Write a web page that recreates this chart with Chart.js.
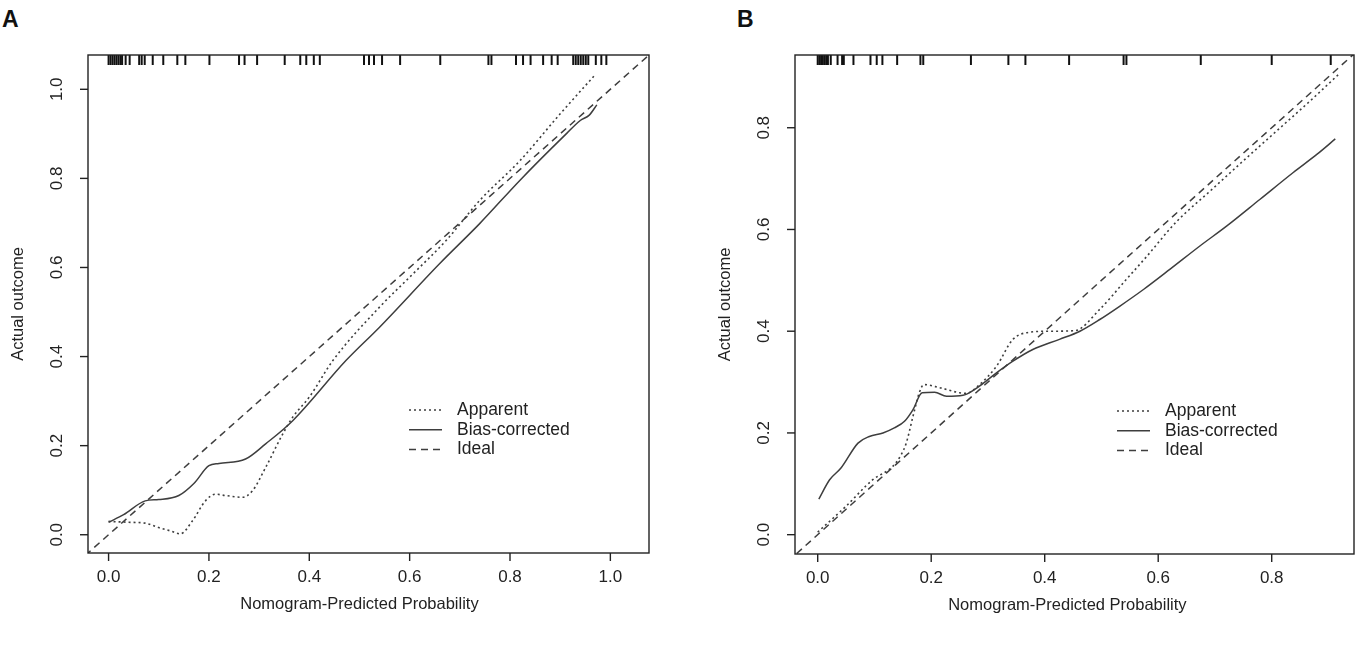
<!DOCTYPE html>
<html>
<head>
<meta charset="utf-8">
<script src="https://cdn.jsdelivr.net/npm/chart.js@4.4.0/dist/chart.umd.min.js"></script>
<style>
  html, body { margin: 0; padding: 0; background: #fff; }
  .panel { position: absolute; top: 0; width: 683px; height: 651px; }
  .tag { position: absolute; top: 6px; font: bold 23px "Liberation Sans", Arial, sans-serif; color: #111; }
</style>
</head>
<body>
<div class="tag" style="left:2px">A</div>
<div class="tag" style="left:737px">B</div>
<div class="panel" style="left:0"><canvas id="chartA"></canvas></div>
<div class="panel" style="left:683px"><canvas id="chartB"></canvas></div>
<script>
// tick labels
var xTicksA = [0, 0.2, 0.4, 0.6, 0.8, 1.0];
var yTicksA = [0, 0.2, 0.4, 0.6, 0.8, 1.0];
var xTicksB = [0, 0.2, 0.4, 0.6, 0.8];
var yTicksB = [0, 0.2, 0.4, 0.6, 0.8];
var legendLabels = ["Apparent", "Bias-corrected", "Ideal"];

// panel A curves
var apparentAx = [0.0, 0.04, 0.073, 0.10, 0.125, 0.143, 0.167, 0.193, 0.213, 0.233, 0.267, 0.287, 0.313, 0.347, 0.367, 0.40, 0.447, 0.54, 0.607, 0.673, 0.74, 0.82, 0.90, 0.970];
var apparentAy = [0.030, 0.028, 0.026, 0.016, 0.008, 0.002, 0.031, 0.076, 0.091, 0.088, 0.084, 0.099, 0.151, 0.226, 0.264, 0.309, 0.391, 0.511, 0.586, 0.661, 0.751, 0.840, 0.945, 1.033];
var biasAx = [0.0, 0.03, 0.073, 0.10, 0.14, 0.17, 0.20, 0.22, 0.273, 0.313, 0.367, 0.473, 0.54, 0.66, 0.74, 0.82, 0.913, 0.94, 0.958, 0.973];
var biasAy = [0.028, 0.045, 0.076, 0.079, 0.088, 0.115, 0.155, 0.160, 0.170, 0.204, 0.256, 0.391, 0.466, 0.609, 0.699, 0.796, 0.901, 0.930, 0.942, 0.965];
var idealAx = [-0.1, 1.2];
var idealAy = [-0.1, 1.2];
var rugA = [0.0, 0.004, 0.008, 0.012, 0.016, 0.020, 0.024, 0.027, 0.034, 0.042, 0.061, 0.066, 0.072, 0.088, 0.109, 0.137, 0.153, 0.201, 0.260, 0.271, 0.296, 0.351, 0.382, 0.394, 0.409, 0.421, 0.509, 0.519, 0.529, 0.545, 0.581, 0.661, 0.757, 0.763, 0.812, 0.826, 0.841, 0.866, 0.883, 0.895, 0.926, 0.931, 0.936, 0.941, 0.946, 0.951, 0.956, 0.971, 0.982, 0.992];

// panel B curves
var apparentBx = [0.0, 0.05, 0.097, 0.132, 0.147, 0.156, 0.168, 0.179, 0.187, 0.215, 0.250, 0.262, 0.285, 0.315, 0.344, 0.374, 0.41, 0.453, 0.497, 0.544, 0.579, 0.632, 0.691, 0.750, 0.809, 0.868, 0.918];
var apparentBy = [0.005, 0.056, 0.108, 0.134, 0.157, 0.180, 0.233, 0.279, 0.295, 0.289, 0.279, 0.278, 0.295, 0.331, 0.384, 0.398, 0.400, 0.401, 0.443, 0.502, 0.546, 0.615, 0.675, 0.735, 0.794, 0.853, 0.905];
var biasBx = [0.002, 0.021, 0.041, 0.071, 0.091, 0.115, 0.135, 0.153, 0.168, 0.184, 0.206, 0.227, 0.256, 0.285, 0.315, 0.344, 0.379, 0.426, 0.462, 0.497, 0.532, 0.574, 0.621, 0.674, 0.721, 0.779, 0.838, 0.880, 0.912];
var biasBy = [0.070, 0.108, 0.131, 0.180, 0.193, 0.200, 0.210, 0.223, 0.246, 0.279, 0.280, 0.272, 0.274, 0.292, 0.318, 0.341, 0.364, 0.384, 0.400, 0.423, 0.449, 0.482, 0.522, 0.568, 0.607, 0.659, 0.712, 0.748, 0.778];
var idealBx = [-0.1, 1.1];
var idealBy = [-0.1, 1.1];
var rugB = [0.0, 0.003, 0.006, 0.009, 0.012, 0.015, 0.018, 0.023, 0.035, 0.043, 0.046, 0.063, 0.093, 0.104, 0.114, 0.140, 0.181, 0.186, 0.270, 0.336, 0.366, 0.443, 0.539, 0.544, 0.675, 0.800, 0.904];

var FONT = '"Liberation Sans", Arial, sans-serif';
var INK = "#222";
var LINE = "#3e3e3e";
var DOTS = [2, 3];
var DASH = [7, 5];

function pts(xs, ys) {
  return xs.map(function (x, i) { return { x: x, y: ys[i] }; });
}

function fmt(v) { return v.toFixed(1); }

var frame = {
  id: "frame",
  afterDatasetsDraw: function (chart, args, o) {
    var c = chart.ctx, a = chart.chartArea;
    var xs = chart.scales.x, ys = chart.scales.y;
    c.save();
    c.strokeStyle = INK;
    c.fillStyle = INK;
    c.lineWidth = 1.4;
    c.setLineDash([]);
    c.strokeRect(a.left, a.top, a.right - a.left, a.bottom - a.top);
    c.font = "17px " + FONT;
    c.textAlign = "center";
    c.textBaseline = "middle";
    o.xTicks.forEach(function (v) {
      var p = xs.getPixelForValue(v);
      c.beginPath(); c.moveTo(p, a.bottom); c.lineTo(p, a.bottom + 8); c.stroke();
      c.fillText(fmt(v), p, a.bottom + 24);
    });
    o.yTicks.forEach(function (v) {
      var p = ys.getPixelForValue(v);
      c.beginPath(); c.moveTo(a.left - 8, p); c.lineTo(a.left, p); c.stroke();
      c.save();
      c.translate(a.left - 31, p);
      c.rotate(-Math.PI / 2);
      c.fillText(fmt(v), 0, 0);
      c.restore();
    });
    c.font = "16.5px " + FONT;
    c.fillText("Nomogram-Predicted Probability", xs.getPixelForValue(o.titleX), a.bottom + 51);
    c.save();
    c.translate(a.left - 70, (a.top + a.bottom) / 2);
    c.rotate(-Math.PI / 2);
    c.fillText("Actual outcome", 0, 0);
    c.restore();

    // legend
    var dashes = [DOTS, [], DASH];
    c.font = "17.5px " + FONT;
    c.textAlign = "left";
    c.strokeStyle = LINE;
    c.lineWidth = 1.5;
    legendLabels.forEach(function (t, i) {
      var yy = a.top + o.legendTop + i * 19.8;
      c.setLineDash(dashes[i]);
      c.beginPath(); c.moveTo(a.left + o.legendLeft, yy); c.lineTo(a.left + o.legendLeft + 33, yy); c.stroke();
      c.fillText(t, a.left + o.legendLeft + 48, yy);
    });
    c.restore();
  }
};

function makePanel(id, p) {
  var rugY = p.yMax - 5 / p.pxPerY;
  new Chart(document.getElementById(id), {
    type: "scatter",
    data: {
      datasets: [
        { data: pts(p.idealX, p.idealY), showLine: true, borderColor: LINE, borderWidth: 1.5, borderDash: DASH, pointRadius: 0 },
        { data: pts(p.appX, p.appY), showLine: true, borderColor: LINE, borderWidth: 1.6, borderDash: DOTS, pointRadius: 0, cubicInterpolationMode: "monotone" },
        { data: pts(p.biasX, p.biasY), showLine: true, borderColor: LINE, borderWidth: 1.5, pointRadius: 0, cubicInterpolationMode: "monotone" },
        { data: p.rug.map(function (x) { return { x: x, y: rugY }; }), showLine: false, pointStyle: "line", rotation: 90, pointRadius: 5, borderColor: "#111", borderWidth: 2 }
      ]
    },
    options: {
      responsive: true,
      maintainAspectRatio: false,
      animation: false,
      events: [],
      layout: { padding: p.pad },
      plugins: {
        legend: { display: false },
        tooltip: { enabled: false },
        frame: { xTicks: p.xTicks, yTicks: p.yTicks, legendTop: p.legendTop, legendLeft: p.legendLeft, titleX: p.titleX }
      },
      scales: {
        x: { type: "linear", min: p.xMin, max: p.xMax, display: false },
        y: { type: "linear", min: p.yMin, max: p.yMax, display: false }
      }
    },
    plugins: [frame]
  });
}

makePanel("chartA", {
  appX: apparentAx, appY: apparentAy, biasX: biasAx, biasY: biasAy,
  idealX: idealAx, idealY: idealAy, rug: rugA,
  xTicks: xTicksA, yTicks: yTicksA,
  xMin: -0.041, xMax: 1.077, yMin: -0.041, yMax: 1.077, pxPerY: 445,
  pad: { left: 88, top: 55, right: 34, bottom: 98 }, legendTop: 355, legendLeft: 321, titleX: 0.5
});

makePanel("chartB", {
  appX: apparentBx, appY: apparentBy, biasX: biasBx, biasY: biasBy,
  idealX: idealBx, idealY: idealBy, rug: rugB,
  xTicks: xTicksB, yTicks: yTicksB,
  xMin: -0.04, xMax: 0.945, yMin: -0.038, yMax: 0.943, pxPerY: 508,
  pad: { left: 112, top: 55, right: 12, bottom: 97 }, legendTop: 356, legendLeft: 322, titleX: 0.44
});
</script>
</body>
</html>
